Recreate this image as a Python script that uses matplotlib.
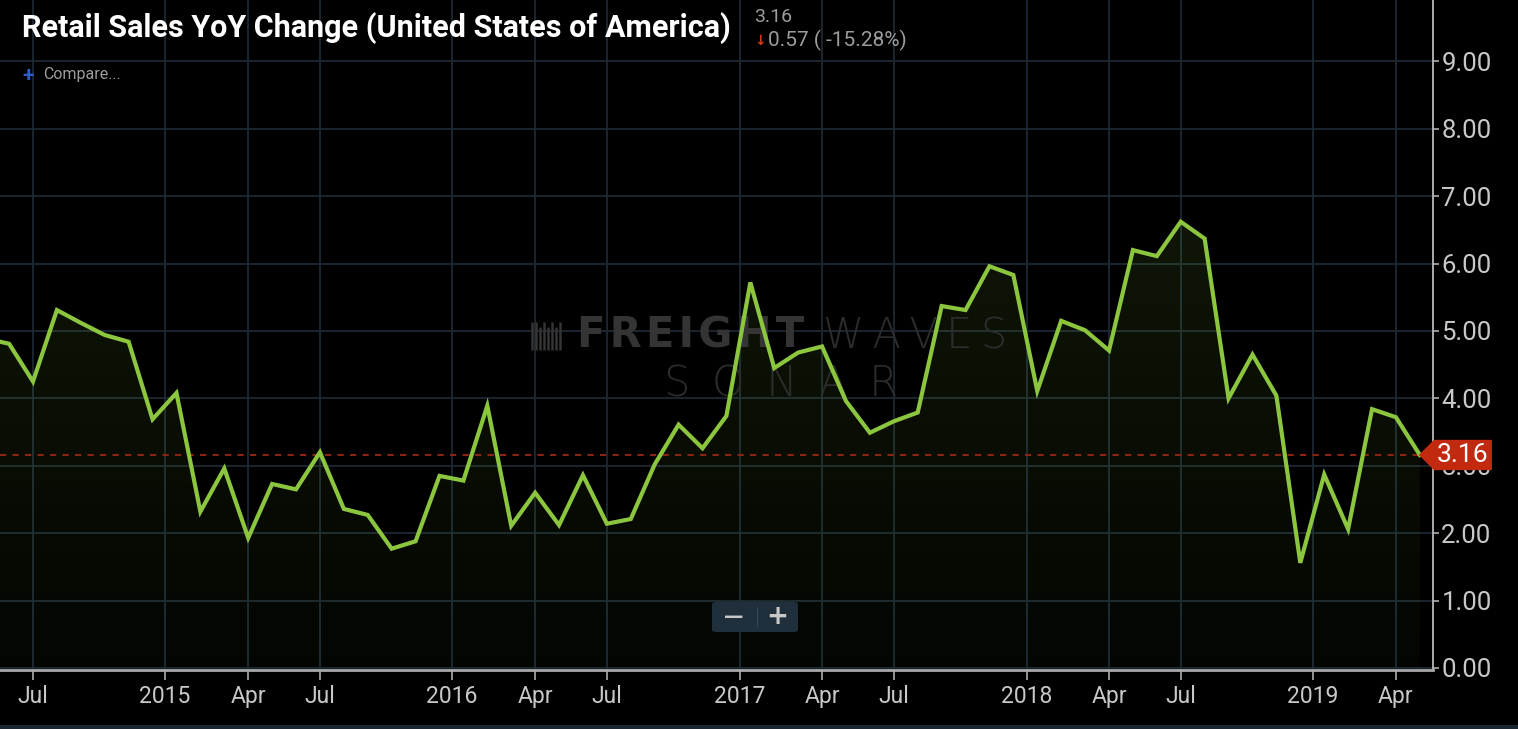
import numpy as np
import pandas as pd
import matplotlib
matplotlib.use('Agg')
import matplotlib.pyplot as plt
from matplotlib.path import Path
from matplotlib.patches import FancyBboxPatch, Rectangle

plt.rcParams['font.family'] = ['Roboto', 'DejaVu Sans']

# monthly retail sales YoY change (%), May 2014 - May 2019
meses = pd.period_range('2014-05', '2019-05', freq='M')
yoy = [4.89, 4.81, 4.25, 5.31, 5.12, 4.94, 4.84, 3.69,
       4.08, 2.32, 2.96, 1.93, 2.73, 2.65, 3.20, 2.36, 2.27, 1.77, 1.88, 2.85,
       2.78, 3.89, 2.11, 2.60, 2.12, 2.86, 2.14, 2.21, 3.02, 3.61, 3.26, 3.74,
       5.72, 4.45, 4.68, 4.77, 3.96, 3.49, 3.66, 3.79, 5.37, 5.31, 5.96, 5.83,
       4.11, 5.15, 5.01, 4.71, 6.20, 6.11, 6.62, 6.37, 4.00, 4.65, 4.04, 1.56,
       2.87, 2.06, 3.84, 3.72, 3.16]
nilai_akhir = 3.16
perubahan = '0.57 ( -15.28%)'

# x ticks in month-index units (0 = May 2014)
tick_pos = [2, 7.52, 11, 14, 19.52, 23, 26, 31.55, 35, 38, 43.55, 47, 50, 55.52, 59]
tick_label = ['Jul', '2015', 'Apr', 'Jul', '2016', 'Apr', 'Jul', '2017', 'Apr', 'Jul',
              '2018', 'Apr', 'Jul', '2019', 'Apr']
y_ticks = [0, 1, 2, 3, 4, 5, 6, 7, 8, 9]

W, H = 1518, 729
fig = plt.figure(figsize=(W / 100, H / 100), dpi=100, facecolor='black')
ax = fig.add_axes([0, 1 - 670 / H, 1433 / W, 670 / H])
ax.set_facecolor('black')

x = np.arange(len(yoy))
hijau = '#8cc63f'
grid_c = '#1c2834'

# gradient fill under the line
poly = ax.fill_between(x, yoy, -1, color='none', lw=0)
grad = np.zeros((100, 2, 4))
grad[..., 0] = 140 / 255
grad[..., 1] = 198 / 255
grad[..., 2] = 63 / 255
grad[..., 3] = np.linspace(0.11, 0.03, 100)[:, None]
im = ax.imshow(grad, extent=[x[0], x[-1], 0, max(yoy)], origin='upper', aspect='auto', zorder=1)
im.set_clip_path(poly.get_paths()[0], transform=ax.transData)

ax.plot(x, yoy, color=hijau, lw=3.0, solid_joinstyle='miter', zorder=4)
ax.axhline(nilai_akhir, color='#8a2414', lw=1.5, ls=(0, (3, 3)), zorder=3)

ax.set_xlim(0.62, 60.55)
ax.set_ylim(-0.03, 9.91)
ax.set_xticks(tick_pos)
ax.set_xticklabels(tick_label)
ax.set_yticks(y_ticks)
ax.set_yticklabels([f'{v:.2f}' for v in y_ticks])
ax.yaxis.tick_right()
ax.grid(True, color=grid_c, lw=1.3, zorder=0)
ax.set_axisbelow(True)
ax.tick_params(axis='x', colors='#a0a0a0', labelcolor='#c8c8c8', labelsize=16.5, length=7, width=1.3, pad=4)
ax.tick_params(axis='y', colors='#a0a0a0', labelcolor='#c8c8c8', labelsize=18.5, length=4, width=1.3, pad=2)
for s in ['top', 'left']:
    ax.spines[s].set_visible(False)
ax.spines['right'].set_color('#b8b8b8')
ax.spines['right'].set_linewidth(1.3)
ax.spines['bottom'].set_color('#a8a8a8')
ax.spines['bottom'].set_linewidth(2)


# price tag on the right axis (covers the 3.00 label, as in the original)
def bentuk_tag(x0, y0, width, height, mutation_size):
    pad = mutation_size * 0.12
    x0, y0 = x0 - pad, y0 - pad
    x1, y1 = x0 + width + 2 * pad, y0 + height + 2 * pad
    ujung = (y1 - y0) / 2
    return Path([(x0 - ujung, (y0 + y1) / 2), (x0, y0), (x1, y0), (x1, y1), (x0, y1),
                 (x0 - ujung, (y0 + y1) / 2)], closed=True)


ax.annotate(f'{nilai_akhir:.2f}', xy=(1, nilai_akhir), xycoords=('axes fraction', 'data'),
            xytext=(3, 0), textcoords='offset points', ha='left', va='center',
            fontsize=19, color='white', annotation_clip=False, zorder=10,
            bbox=dict(boxstyle=bentuk_tag, fc='#c22a10', ec='none'))

# watermark
aw = 1433.0
ah = 670.0
hs = '\u200a'
ax.text(577 / aw, 1 - 336 / ah, hs.join('FREIGHT'), transform=ax.transAxes,
        family=['DejaVu Sans'], fontsize=30, fontweight='bold',
        color='#343434', ha='left', va='center', zorder=2)
ax.text(823 / aw, 1 - 336 / ah, '\u2009'.join('WAVES'), transform=ax.transAxes,
        family=['DejaVu Sans'], fontsize=30, fontweight='light',
        color='#2c2c2c', ha='left', va='center', zorder=2)
ax.text(781 / aw, 1 - 384 / ah, ' \u2009'.join('SONAR'), transform=ax.transAxes,
        family=['DejaVu Sans'], fontsize=30, fontweight='light',
        color='#2c2c2c', ha='center', va='center', zorder=2)
# small bar logo in front of the watermark
logo_x = [532, 536, 540, 544, 548, 552, 556, 560]
logo_top = [322, 322, 327, 322, 327, 322, 327, 322]
ax.vlines([v / aw for v in logo_x], [1 - 350 / ah] * 8, [1 - t / ah for t in logo_top],
          transform=ax.transAxes, color='#343434', lw=1.8, zorder=2)

# header texts
fig.text(22 / W, 1 - 37 / H, 'Retail Sales YoY Change (United States of America)',
         family=['Liberation Sans Narrow', 'Roboto'], fontweight='bold', fontsize=22,
         color='white', ha='left', va='baseline')
fig.text(754 / W, 1 - 22 / H, f'{nilai_akhir:.2f}', fontsize=14, color='#9c9c9c',
         ha='left', va='baseline')
fig.text(754 / W, 1 - 45 / H, '\u2193', family=['DejaVu Sans'], fontweight='bold', fontsize=10,
         color='#d0381a', ha='left', va='baseline')
fig.text(768 / W, 1 - 46 / H, perubahan, fontsize=15, color='#9c9c9c', ha='left', va='baseline')
fig.text(22 / W, 1 - 75 / H, '+', fontsize=15, fontweight='bold', color='#2f5fc4',
         ha='left', va='center')
fig.text(43 / W, 1 - 75 / H, 'Compare...', fontsize=11.5, color='#9c9c9c', ha='left', va='center')

# zoom buttons
fig.patches.append(FancyBboxPatch((712 / W, 1 - 632 / H), 86 / W, 30 / H,
                                  boxstyle='round,pad=0,rounding_size=0.003',
                                  transform=fig.transFigure, fc='#1f2f3b', ec='none', zorder=5))
fig.text(734 / W, 1 - 617 / H, '\u2014', family=['DejaVu Sans'], fontsize=14, fontweight='bold',
         color='#c8c8c8', ha='center', va='center', zorder=6)
fig.text(777 / W, 1 - 617 / H, '+', family=['DejaVu Sans'], fontsize=19, fontweight='bold',
         color='#c8c8c8', ha='center', va='center', zorder=6)
fig.patches.append(Rectangle((757 / W, 1 - 627 / H), 1 / W, 20 / H, transform=fig.transFigure,
                             fc='#3a4a56', ec='none', zorder=6))

# bottom strip
fig.patches.append(Rectangle((0, 0), 1, 4 / H, transform=fig.transFigure,
                             fc='#1b252d', ec='none'))

fig.savefig('out.png', dpi=100, facecolor='black')
